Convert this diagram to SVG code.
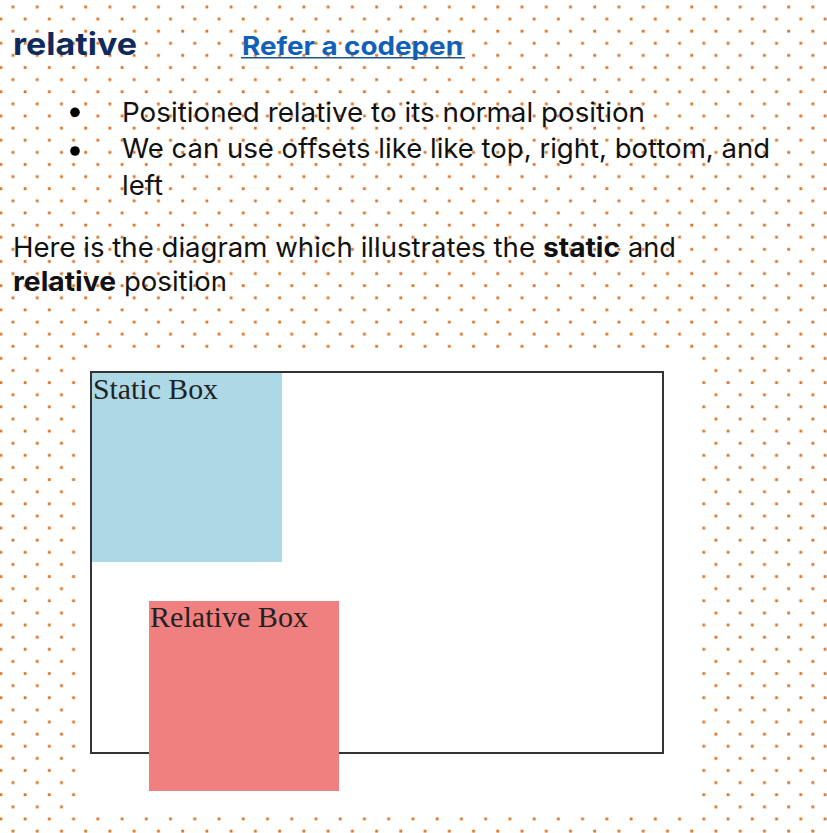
<svg xmlns="http://www.w3.org/2000/svg" width="827" height="833" viewBox="0 0 827 833">
  <defs>
    <pattern id="dots" patternUnits="userSpaceOnUse" x="-5.15" y="0.94" width="24.24" height="24.24">
      <rect x="16.75" y="4.6" width="2.8" height="2.8" fill="#DC7324"/>
      <rect x="4.6" y="16.7" width="2.8" height="2.8" fill="#DC7324"/>
    </pattern>
    <style>
      .t { font-family: Inter, "Noto Sans", "Liberation Sans", sans-serif; font-size: 27px; fill: #111; }
      .b { font-weight: bold; }
      .lbl { font-family: "Liberation Serif", "Times New Roman", serif; font-size: 30px; fill: #222; }
    </style>
  </defs>
  <rect x="0" y="0" width="827" height="833" fill="#ffffff"/>
  <rect x="0" y="0" width="827" height="833" fill="url(#dots)"/>
  <rect x="76" y="352" width="625" height="462" fill="#ffffff"/>

  <g id="heading">
    <text x="13" y="55" font-family="Inter, 'Noto Sans', sans-serif" font-size="31" font-weight="bold" fill="#102A5C" textLength="124" lengthAdjust="spacingAndGlyphs">relative</text>
    <text x="242" y="55" font-family="Inter, 'Noto Sans', sans-serif" font-size="25" font-weight="bold" fill="#1160B8" textLength="221" lengthAdjust="spacingAndGlyphs">Refer a codepen</text>
    <line x1="241" y1="57.8" x2="465" y2="57.8" stroke="#1A5590" stroke-width="1.6"/>
  </g>

  <g id="bullets">
    <circle cx="75" cy="112.3" r="4.8" fill="#000"/>
    <text class="t" x="122" y="122" textLength="523" lengthAdjust="spacingAndGlyphs">Positioned relative to its normal position</text>
    <circle cx="75" cy="151" r="4.8" fill="#000"/>
    <text class="t" x="122" y="158" textLength="648" lengthAdjust="spacingAndGlyphs">We can use offsets like like top, right, bottom, and</text>
    <text class="t" x="122" y="195" textLength="41" lengthAdjust="spacingAndGlyphs">left</text>
  </g>

  <g id="paragraph">
    <text class="t" x="13" y="257" textLength="522" lengthAdjust="spacingAndGlyphs">Here is the diagram which illustrates the</text>
    <text class="t b" x="543" y="257" textLength="77" lengthAdjust="spacingAndGlyphs">static</text>
    <text class="t" x="628" y="257" textLength="48" lengthAdjust="spacingAndGlyphs">and</text>
    <text class="t b" x="13" y="291" textLength="103" lengthAdjust="spacingAndGlyphs">relative</text>
    <text class="t" x="124" y="291" textLength="103" lengthAdjust="spacingAndGlyphs">position</text>
  </g>

  <g id="container">
    <rect x="91" y="372" width="572" height="381" fill="#ffffff" stroke="#333" stroke-width="2"/>
  </g>
  <g id="static-box">
    <rect x="92" y="373" width="190" height="189" fill="#ADD8E6"/>
    <text class="lbl" x="93" y="399" textLength="125" lengthAdjust="spacingAndGlyphs">Static Box</text>
  </g>
  <g id="relative-box">
    <rect x="149" y="601" width="190" height="190" fill="#F08080"/>
    <text class="lbl" x="150" y="627" textLength="158" lengthAdjust="spacingAndGlyphs">Relative Box</text>
  </g>
  <g id="connectors"/>
</svg>
